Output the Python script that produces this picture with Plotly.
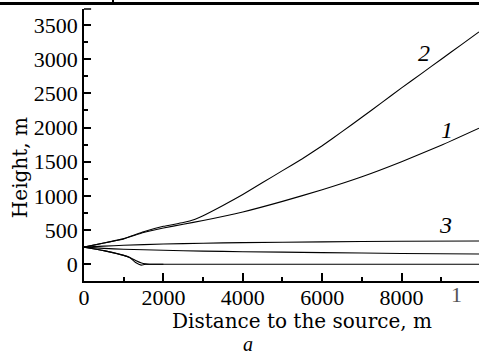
import plotly.graph_objects as go

# Curve 2
x2 = [0, 500, 1000, 1500, 2000, 2500, 2800, 3000, 3500, 4000, 4500, 5000, 5500, 6000, 6500, 7000, 7500, 8000, 8500, 9000, 9500, 9950]
y2 = [250, 310, 375, 475, 555, 610, 660, 710, 860, 1020, 1195, 1370, 1545, 1735, 1940, 2150, 2365, 2580, 2790, 3000, 3210, 3400]
# Curve 1
x1 = [0, 500, 1000, 1500, 2000, 2500, 3000, 4000, 5000, 6000, 7000, 8000, 9000, 9950]
y1 = [250, 310, 370, 465, 530, 585, 640, 765, 920, 1090, 1280, 1500, 1740, 1990]
# Curve 3
x3 = [0, 500, 1000, 2000, 3000, 4000, 6000, 8000, 9950]
y3 = [250, 265, 278, 296, 308, 317, 328, 336, 340]
# Lower flat curve
x4 = [0, 500, 1000, 2000, 3000, 4000, 6000, 8000, 9950]
y4 = [250, 232, 219, 205, 192, 184, 170, 158, 150]
# Bottom curves
x5 = [0, 500, 1000, 1150, 1300, 1440, 1560, 1700, 2000, 4000, 9950]
y5 = [250, 200, 130, 100, 25, -12, 0, 0, 0, 0, 0]
x6 = [0, 500, 1000, 1150, 1300, 1450, 1550, 1650, 1750, 2000]
y6 = [250, 200, 130, 100, 55, 18, 6, 1, 0, 0]

curve_labels = ["2", "1", "3"]

fig = go.Figure()
for xs, ys in [(x2, y2), (x1, y1), (x3, y3), (x4, y4), (x5, y5), (x6, y6)]:
    fig.add_trace(go.Scatter(x=xs, y=ys, mode="lines", line=dict(color="black", width=1.1, shape="spline", smoothing=0.4),
                             showlegend=False, hoverinfo="skip"))

SERIF = "Liberation Serif, Times New Roman, DejaVu Serif, serif"
tickfont = dict(family=SERIF, size=22, color="black")
fig.update_layout(
    width=479, height=355,
    margin=dict(l=84, r=0, t=9, b=74),
    paper_bgcolor="white", plot_bgcolor="white",
    xaxis=dict(range=[0, 9950], showgrid=False, zeroline=False, showline=True, linecolor="black", linewidth=1.5,
               ticks="inside", ticklen=8, tickwidth=1.5, tickcolor="black", dtick=2000, tick0=0, tickformat="d",
               minor=dict(ticks="inside", ticklen=4, tickwidth=1.5, tickcolor="black", dtick=1000),
               tickfont=tickfont, ticklabelstandoff=-4),
    yaxis=dict(range=[-245, 3735], showgrid=False, zeroline=False, showline=True, linecolor="black", linewidth=1.5,
               ticks="inside", ticklen=7, tickwidth=1.5, tickcolor="black", dtick=500, tick0=0, tickformat="d",
               minor=dict(ticks="inside", ticklen=4, tickwidth=1.5, tickcolor="black", dtick=250),
               tickfont=tickfont),
)

titlefont = dict(family="DejaVu Serif, Liberation Serif, serif", size=20, color="black")
italic = dict(family=SERIF, size=24, color="black")
ann = [
    dict(text="Height, m", x=-0.162, y=0.415, textangle=-90, font=titlefont),
    dict(text="Distance to the source, m", x=0.552, y=-0.146, font=titlefont),
    dict(text="<i>a</i>", x=0.415, y=-0.232, font=dict(family=SERIF, size=20, color="black")),
    dict(text="<i>%s</i>" % curve_labels[0], x=0.861, y=0.838, font=italic),
    dict(text="<i>%s</i>" % curve_labels[1], x=0.919, y=0.555, font=italic),
    dict(text="<i>%s</i>" % curve_labels[2], x=0.916, y=0.206, font=italic),
    dict(text="1", x=0.942, y=-0.051, font=dict(family=SERIF, size=22, color="#555555")),
]
for a in ann:
    fig.add_annotation(xref="paper", yref="paper", showarrow=False, xanchor="center", yanchor="middle", **a)

fig.add_shape(type="line", xref="paper", yref="paper", x0=-0.22, x1=1.0, y0=1.020, y1=1.020,
              line=dict(color="black", width=3))
fig.add_shape(type="line", xref="paper", yref="paper", x0=0.0734, x1=0.0734, y0=1.020, y1=1.04,
              line=dict(color="black", width=2))
fig.add_shape(type="line", xref="paper", yref="paper", x0=0, x1=0.018, y0=1.0, y1=1.0,
              line=dict(color="black", width=1.5))

fig.write_html("out.html", config={"displayModeBar": False},
               post_script="document.body.style.margin='0';document.body.style.overflow='hidden';")
